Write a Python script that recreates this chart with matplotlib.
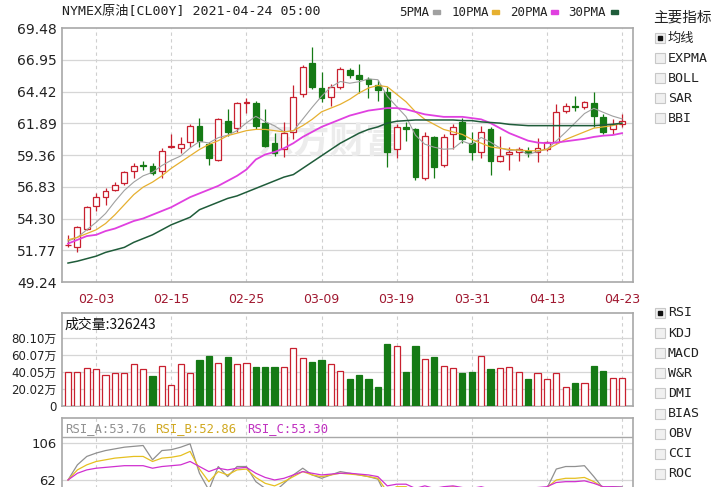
import matplotlib.pyplot as plt
import numpy as np
from matplotlib.patches import Rectangle

plt.rcParams['font.family'] = ['DejaVu Sans', 'Noto Sans CJK SC']
MONO = ['DejaVu Sans Mono', 'Noto Sans CJK SC']
CJK = ['Noto Sans CJK SC', 'DejaVu Sans']

# ---- data ----
date_labels = ['02-03', '02-15', '02-25', '03-09', '03-19', '03-31', '04-13', '04-23']
date_pos = [3, 11, 19, 27, 35, 43, 51, 59]

opens = [52.15, 52.0, 53.5, 55.3, 56.0, 56.6, 57.1, 58.1, 58.55, 58.5,
         58.1, 60.0, 59.9, 60.4, 61.7, 60.2, 59.0, 62.1, 61.5, 63.5,
         63.5, 61.9, 60.3, 59.8, 61.2, 64.2, 66.7, 64.7, 64.0, 64.8,
         66.1, 65.7, 65.4, 64.9, 64.4, 59.8, 61.6, 61.4, 57.5, 60.8,
         58.6, 61.0, 62.0, 60.3, 59.6, 61.4, 58.9, 59.4, 59.6, 59.7,
         59.6, 59.8, 60.4, 62.9, 63.3, 63.2, 63.5, 62.4, 61.4, 61.8]
highs = [53.0, 53.7, 55.3, 56.3, 56.7, 57.2, 58.1, 58.7, 58.9, 58.7,
         59.9, 61.0, 60.8, 61.8, 62.3, 60.4, 62.3, 63.0, 63.6, 63.9,
         63.7, 63.0, 61.1, 62.0, 64.9, 66.5, 68.0, 66.0, 65.0, 66.4,
         66.3, 66.6, 65.6, 65.3, 64.8, 61.8, 62.0, 61.5, 61.2, 60.9,
         61.0, 61.8, 62.3, 61.2, 61.7, 61.6, 60.9, 60.0, 60.0, 60.0,
         60.7, 60.5, 63.4, 63.5, 64.1, 63.7, 64.4, 62.6, 62.2, 62.6]
lows = [52.0, 51.6, 53.4, 54.9, 55.4, 56.5, 57.0, 57.5, 58.2, 57.8,
        57.5, 59.9, 59.5, 60.0, 60.0, 58.6, 58.9, 60.9, 61.2, 62.7,
        61.4, 60.0, 59.3, 59.2, 60.6, 64.0, 64.6, 63.6, 63.3, 64.6,
        65.5, 64.3, 63.9, 63.7, 58.4, 59.1, 60.5, 57.4, 57.4, 57.5,
        58.4, 59.8, 60.3, 59.0, 59.1, 57.8, 58.8, 58.2, 58.9, 59.2,
        58.8, 59.7, 60.3, 62.7, 62.9, 63.0, 61.6, 61.0, 61.0, 61.6]
closes = [52.2, 53.6, 55.2, 56.0, 56.5, 57.0, 58.0, 58.5, 58.5, 57.9,
          59.7, 60.1, 60.2, 61.7, 60.5, 59.1, 62.2, 61.2, 63.5, 63.6,
          61.7, 60.1, 59.5, 61.1, 64.0, 66.4, 64.8, 63.9, 64.8, 66.2,
          65.7, 65.4, 65.0, 64.5, 59.6, 61.6, 61.4, 57.6, 60.9, 58.4,
          60.8, 61.6, 60.6, 59.6, 61.2, 58.9, 59.3, 59.6, 59.8, 59.5,
          59.9, 60.4, 62.8, 63.3, 63.2, 63.6, 62.5, 61.2, 61.8, 62.1]

ma5 = [52.5, 52.8, 53.4, 54.0, 54.7, 55.66, 56.54, 57.2, 57.7, 57.98,
       58.52, 58.94, 59.28, 59.92, 60.44, 60.32, 60.74, 60.94, 61.3, 61.92,
       62.44, 62.02, 61.68, 61.2, 61.28, 62.22, 63.16, 64.04, 64.78, 65.22,
       65.08, 65.2, 65.42, 65.36, 64.04, 63.22, 62.42, 60.94, 60.22, 59.98,
       59.82, 59.86, 60.46, 60.2, 60.76, 60.38, 59.92, 59.72, 59.76, 59.42,
       59.62, 59.84, 60.48, 61.18, 61.92, 62.66, 63.08, 62.76, 62.46, 62.24]
ma10 = [52.6, 52.8, 53.1, 53.4, 53.9, 54.6, 55.4, 56.2, 56.8, 57.2,
        57.7, 58.3, 58.8, 59.3, 59.8, 60.2, 60.5, 60.9, 61.1, 61.3,
        61.4, 61.4, 61.3, 61.2, 61.3, 61.7, 62.2, 62.8, 63.1, 63.4,
        63.8, 64.3, 64.7, 64.9, 64.8, 64.2, 63.6, 62.8, 62.2, 61.8,
        61.4, 61.2, 61.0, 60.6, 60.3, 60.0, 59.9, 59.8, 59.75, 59.7,
        59.7, 59.8, 60.2, 60.6, 60.9, 61.2, 61.5, 61.6, 61.7, 61.9]
ma20 = [52.3, 52.6, 52.9, 53.0, 53.3, 53.5, 53.8, 54.1, 54.3, 54.6,
        54.9, 55.2, 55.6, 56.0, 56.3, 56.6, 56.9, 57.3, 57.7, 58.2,
        59.0, 59.4, 59.6, 59.9, 60.3, 60.8, 61.2, 61.6, 61.9, 62.2,
        62.5, 62.7, 62.9, 63.0, 63.1, 63.1, 63.0, 62.8, 62.6, 62.5,
        62.4, 62.4, 62.4, 62.3, 62.2, 61.9, 61.5, 61.1, 60.8, 60.5,
        60.35, 60.3, 60.35, 60.45, 60.55, 60.65, 60.8, 60.9, 60.95, 61.1]
ma30 = [50.75, 50.9, 51.1, 51.3, 51.6, 51.8, 52.0, 52.4, 52.7, 53.0,
        53.4, 53.8, 54.1, 54.4, 55.0, 55.3, 55.6, 55.9, 56.1, 56.4,
        56.7, 57.0, 57.3, 57.6, 57.8, 58.3, 58.8, 59.3, 59.8, 60.3,
        60.7, 61.1, 61.4, 61.6, 61.9, 62.05, 62.1, 62.15, 62.15, 62.15,
        62.15, 62.15, 62.1, 62.1, 62.0, 61.95, 61.9, 61.8, 61.75, 61.7,
        61.7, 61.7, 61.7, 61.7, 61.7, 61.7, 61.7, 61.75, 61.8, 61.9]

# volume in 万 (10k lots)
volume = [40.4, 40.4, 45.1, 43.6, 36.5, 38.5, 38.5, 49.1, 43.6, 35.3,
          47.1, 24.7, 49.1, 39.3, 54.2, 59.3, 51.0, 57.3, 49.1, 51.0,
          45.5, 45.5, 45.5, 45.5, 67.9, 56.1, 52.2, 54.2, 49.1, 41.6,
          31.8, 36.5, 31.8, 22.8, 73.0, 71.0, 40.4, 71.0, 55.3, 57.3,
          47.1, 45.1, 39.3, 40.4, 58.9, 43.6, 45.1, 46.3, 40.4, 31.8,
          38.5, 31.8, 38.5, 22.8, 26.7, 26.7, 47.1, 41.6, 33.4, 32.6]
vol_up = [1, 1, 1, 1, 1, 1, 1, 1, 1, 0, 1, 1, 1, 1, 0, 0, 1, 0, 1, 1,
          0, 0, 0, 1, 1, 1, 0, 0, 1, 1, 0, 0, 0, 0, 0, 1, 0, 0, 1, 0,
          1, 1, 0, 0, 1, 0, 1, 1, 1, 0, 1, 1, 1, 1, 0, 1, 0, 0, 1, 1]

rsi_a = [62, 80, 90, 94, 97, 99, 101, 102, 103, 86, 97, 98, 101, 105, 70,
         50, 78, 66, 78, 78, 60, 52, 48, 58, 68, 76, 68, 64, 68, 72,
         70, 68, 66, 63, 40, 50, 50, 38, 50, 42, 50, 53, 48, 45, 52,
         42, 45, 46, 47, 46, 48, 52, 75, 78, 78, 79, 66, 52, 54, 53.76]
rsi_b = [62, 74, 80, 84, 86, 88, 89, 90, 90, 84, 88, 89, 91, 96, 75,
         60, 72, 68, 74, 75, 65, 58, 55, 60, 66, 72, 68, 66, 68, 70,
         69, 68, 66, 64, 48, 54, 54, 46, 53, 48, 52, 54, 51, 49, 53,
         47, 49, 50, 50, 50, 51, 53, 62, 64, 64, 65, 60, 53, 53, 52.86]
rsi_c = [62, 70, 74, 76, 77, 78, 79, 79, 79, 76, 78, 79, 80, 84, 78,
         72, 76, 74, 76, 77, 70, 65, 62, 64, 68, 72, 70, 68, 69, 70,
         70, 69, 68, 66, 55, 57, 57, 52, 55, 52, 54, 55, 53, 52, 54,
         51, 52, 52, 52, 52, 53, 54, 59, 60, 60, 61, 58, 54, 54, 53.30]

price_ticks = [49.24, 51.77, 54.30, 56.83, 59.36, 61.89, 64.42, 66.95, 69.48]
vol_ticks = [0, 20.02, 40.05, 60.07, 80.10]
rsi_ticks = [62, 106]

RED = '#c8202f'
GREEN = '#157a15'
GRID = '#d6d6d6'
FRAME = '#a8a8a8'
DATE_C = '#a01830'
MA_COLORS = ['#a0a0a0', '#e6b030', '#e040e0', '#1f5c3a']

W, H = 720, 487
fig = plt.figure(figsize=(7.2, 4.87), dpi=100)


def rect(l, t, r, b):
    return [l / W, 1 - b / H, (r - l) / W, (b - t) / H]


x = np.arange(len(closes))
xlim = (-0.64, 60.17)


def style_panel(ax):
    for s in ax.spines.values():
        s.set_color(FRAME)
        s.set_linewidth(1.2)
    ax.tick_params(length=0, colors='#222222', labelsize=10, pad=4)
    ax.set_xlim(*xlim)
    for p in date_pos:
        ax.axvline(p, color='#cfcfcf', lw=0.8, ls=(0, (3, 3)), zorder=0)


# ---- price panel ----
ax = fig.add_axes(rect(62, 28, 633, 282))
style_panel(ax)
ax.set_ylim(price_ticks[0], price_ticks[-1])
ax.set_yticks(price_ticks)
ax.set_yticklabels([f'{v:.2f}' for v in price_ticks])
for v in price_ticks[1:-1]:
    ax.axhline(v, color=GRID, lw=0.9, zorder=0)
ax.set_xticks(date_pos)
ax.set_xticklabels(date_labels, color=DATE_C, fontsize=9)
ax.tick_params(axis='x', pad=8)

ax.text(0.47, 0.55, '东方财富', transform=ax.transAxes, fontsize=26,
        fontweight='bold', color='#ececec', family=CJK, zorder=0,
        ha='center', va='center')

o, h, l, c = map(np.array, (opens, highs, lows, closes))
up = c >= o
ax.vlines(x, l, h, colors=np.where(up, RED, GREEN), lw=0.9, zorder=3)
ax.bar(x, np.maximum(np.abs(c - o), 0.05), bottom=np.minimum(o, c), width=0.62,
       color=np.where(up, 'white', GREEN), edgecolor=np.where(up, RED, GREEN),
       lw=0.9, zorder=4)

for ma, col, lw in zip([ma5, ma10, ma20, ma30], MA_COLORS, [0.8, 0.9, 1.3, 1.1]):
    ax.plot(x, ma, color=col, lw=lw, zorder=5)

# ---- volume panel ----
vax = fig.add_axes(rect(62, 313, 633, 406))
style_panel(vax)
vax.set_ylim(0, 109.5)
vax.set_yticks(vol_ticks)
vax.set_yticklabels(['0'] + [f'{v:.2f}万' for v in vol_ticks[1:]], fontsize=8.5)
vax.set_xticks([])
for v in vol_ticks[1:]:
    vax.axhline(v, color=GRID, lw=0.9, zorder=0)
vu = np.array(vol_up, dtype=bool)
vax.bar(x, volume, width=0.66, color=np.where(vu, 'white', GREEN),
        edgecolor=np.where(vu, RED, GREEN), lw=0.9, zorder=3)
vax.text(0.004, 0.87, f'成交量:{326243}', transform=vax.transAxes, fontsize=10,
         family=CJK, va='center', ha='left', color='#111111')

# ---- RSI panel (cut off by the bottom edge) ----
rax = fig.add_axes(rect(62, 418, 633, 528))
style_panel(rax)
rax.set_ylim(4.9, 135.7)
rax.set_yticks(rsi_ticks)
rax.set_yticklabels([str(v) for v in rsi_ticks], fontsize=9.5)
rax.set_xticks([])
for v in rsi_ticks:
    rax.axhline(v, color=GRID, lw=0.9, zorder=0)
for r, col in zip([rsi_a, rsi_b, rsi_c], ['#909090', '#e6c020', '#d030d0']):
    rax.plot(x, r, color=col, lw=0.9)
rax.axhline(113.1, color=FRAME, lw=1.0)

# ---- overlay: header texts and side menus ----
ov = fig.add_axes([0, 0, 1, 1], facecolor='none')
ov.set_xlim(0, W)
ov.set_ylim(H, 0)
ov.axis('off')

ov.text(62, 11, 'NYMEX原油[CL00Y] 2021-04-24 05:00', fontsize=9.5, family=MONO,
        va='center', ha='left', color='#222222')

legend = [('5PMA', 399, 433), ('10PMA', 452, 492), ('20PMA', 510, 551), ('30PMA', 568, 611)]
for (name, tx, mx), col in zip(legend, MA_COLORS):
    ov.text(tx, 12, name, fontsize=9, family=MONO, va='center', ha='left', color='#222222')
    ov.add_patch(Rectangle((mx, 10), 7, 4, color=col))

ov.text(653, 17, '主要指标', fontsize=10.5, family=CJK, va='center', ha='left', color='#222222')


def checkbox(y, label, checked):
    ov.add_patch(Rectangle((655, y - 5), 10, 10, facecolor='#f0f0f0', edgecolor='#c8c8c8', lw=0.8))
    if checked:
        ov.add_patch(Rectangle((658, y - 2), 4, 4, color='#111111'))
    fam = CJK if label == '均线' else MONO
    ov.text(668, y, label, fontsize=9.5, family=fam, va='center', ha='left', color='#222222')


for i, name in enumerate(['均线', 'EXPMA', 'BOLL', 'SAR', 'BBI']):
    checkbox(38 + i * 20, name, i == 0)
for i, name in enumerate(['RSI', 'KDJ', 'MACD', 'W&R', 'DMI', 'BIAS', 'OBV', 'CCI', 'ROC']):
    checkbox(313 + i * 20.1, name, i == 0)

rsi_hdr = [('RSI_A:53.76', 65, '#909090'), ('RSI_B:52.86', 155, '#d0a820'), ('RSI_C:53.30', 247, '#c030c0')]
for txt, tx, col in rsi_hdr:
    ov.text(tx, 429, txt, fontsize=8.8, family=MONO, va='center', ha='left', color=col)

fig.savefig('out.png', dpi=100)
